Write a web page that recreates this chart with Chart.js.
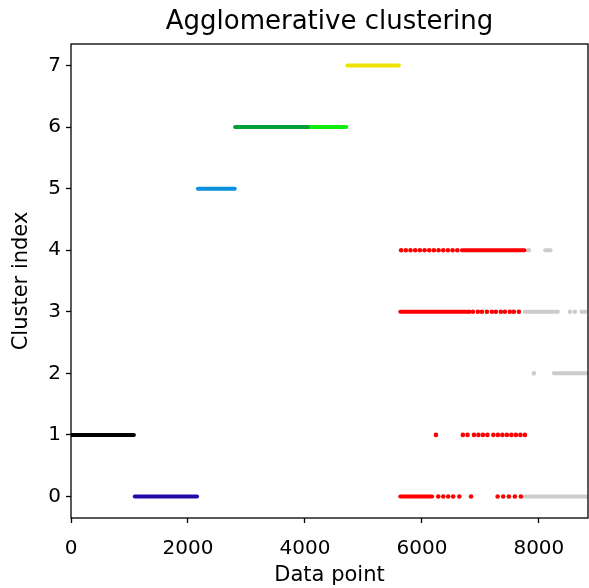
<!DOCTYPE html>
<html>
<head>
<meta charset="utf-8">
<script src="https://cdn.jsdelivr.net/npm/chart.js@4"></script>
<style>
  html, body { margin: 0; background: #fff; overflow: hidden; }
  canvas { display: block; }
</style>
</head>
<body>
<canvas id="clusters" width="589" height="588"></canvas>
<script>
const nPoints = 8840;
const xTicks = [0, 2000, 4000, 6000, 8000];
const clusterTicks = [0, 1, 2, 3, 4, 5, 6, 7];

// contiguous stretches of points: [first index, last index, cluster]
const blackRuns = [[0, 1075, 1]];
const navyRuns = [[1090, 2155, 0]];
const skyRuns = [[2170, 2800, 5]];
const greenRuns = [[2805, 4050, 6]];
const limeRuns = [[4050, 4706, 6]];
const yellowRuns = [[4725, 5605, 7]];
const redRuns = [[6684, 7755, 4], [5630, 6770, 3], [5630, 6175, 0]];
const greyRuns = [[8108, 8200, 4], [7760, 8325, 3], [8256, 8840, 2], [7760, 8840, 0]];

// scattered single points
const redDots4 = [5645, 5725, 5805, 5885, 5965, 6045, 6125, 6205, 6285, 6365, 6445, 6525, 6605];
const redDots3 = [6805, 6872, 6957, 7026, 7111, 7197, 7265, 7350, 7419, 7504, 7572, 7658];
const redDots1 = [6240, 6700, 6780, 6890, 6966, 7043, 7120, 7222, 7299, 7376, 7453, 7530, 7607, 7684, 7761];
const redDots0 = [6280, 6365, 6450, 6535, 6640, 6840, 7295, 7390, 7487, 7590, 7692];
const greyDots4 = [7829];
const greyDots3 = [8530, 8615, 8735, 8790];
const greyDots2 = [7915];

const colours = {
  black: '#000000',
  navy: '#1f0aa8',
  sky: '#0a90dc',
  green: '#00a03c',
  lime: '#10ee10',
  yellow: '#ece400',
  red: '#ff0000',
  grey: '#cccccc'
};

const datasets = [];

function addRuns(runs, colour) {
  runs.forEach(([a, b, c]) => {
    datasets.push({
      data: [{ x: a, y: c }, { x: b, y: c }],
      showLine: true,
      borderColor: colour,
      borderWidth: 4,
      borderCapStyle: 'round',
      pointRadius: 0,
      clip: 0
    });
  });
}

function addDots(xs, cluster, colour) {
  datasets.push({
    data: xs.map(x => ({ x: x, y: cluster })),
    showLine: false,
    pointRadius: 2.3,
    pointBorderWidth: 0,
    pointBackgroundColor: colour,
    clip: 0
  });
}

addRuns(blackRuns, colours.black);
addRuns(navyRuns, colours.navy);
addRuns(skyRuns, colours.sky);
addRuns(greenRuns, colours.green);
addRuns(limeRuns, colours.lime);
addRuns(yellowRuns, colours.yellow);
addRuns(redRuns, colours.red);
addDots(redDots4, 4, colours.red);
addDots(redDots3, 3, colours.red);
addDots(redDots1, 1, colours.red);
addDots(redDots0, 0, colours.red);
addRuns(greyRuns, colours.grey);
addDots(greyDots4, 4, colours.grey);
addDots(greyDots3, 3, colours.grey);
addDots(greyDots2, 2, colours.grey);

const font = 'DejaVu Sans';

// matplotlib-like frame around the plot area
const frame = {
  id: 'frame',
  afterDatasetsDraw(chart) {
    const { ctx, chartArea: a } = chart;
    ctx.save();
    ctx.strokeStyle = '#000';
    ctx.lineWidth = 1.3;
    ctx.strokeRect(a.left, a.top, a.right - a.left, a.bottom - a.top);
    ctx.restore();
  }
};

new Chart(document.getElementById('clusters'), {
  type: 'scatter',
  data: { datasets },
  plugins: [frame],
  options: {
    responsive: false,
    animation: false,
    layout: { autoPadding: false, padding: { left: 0, right: 1, top: 0, bottom: 0 } },
    plugins: {
      legend: { display: false },
      tooltip: { enabled: false },
      title: {
        display: true,
        fullSize: false,
        text: 'Agglomerative clustering',
        color: '#000',
        font: { family: font, size: 26, weight: 'normal' },
        padding: { top: 7, bottom: 5.8 }
      }
    },
    scales: {
      x: {
        type: 'linear',
        min: 0,
        max: nPoints,
        afterBuildTicks: s => { s.ticks = xTicks.map(v => ({ value: v })); },
        afterFit: s => { s.height = 70; s.paddingLeft = 0; s.paddingRight = 0; },
        border: { display: false },
        grid: { drawOnChartArea: false, drawTicks: true, tickLength: 5, tickColor: '#000', tickWidth: 1.3 },
        ticks: {
          color: '#000',
          font: { family: font, size: 20 },
          padding: 14,
          maxRotation: 0,
          callback: v => String(v)
        },
        title: {
          display: true,
          text: 'Data point',
          color: '#000',
          font: { family: font, size: 21 },
          padding: { top: 0, bottom: 0 }
        }
      },
      y: {
        type: 'linear',
        min: -0.35,
        max: 7.35,
        afterBuildTicks: s => { s.ticks = clusterTicks.map(v => ({ value: v })); },
        afterFit: s => { s.width = 71; s.paddingTop = 0; s.paddingBottom = 0; },
        border: { display: false },
        grid: { drawOnChartArea: false, drawTicks: true, tickLength: 5, tickColor: '#000', tickWidth: 1.3 },
        ticks: {
          color: '#000',
          font: { family: font, size: 20 },
          padding: 5,
          callback: v => String(v)
        },
        title: {
          display: true,
          text: 'Cluster index',
          color: '#000',
          font: { family: font, size: 21 },
          padding: { top: 9, bottom: 0 }
        }
      }
    }
  }
});
</script>
</body>
</html>
